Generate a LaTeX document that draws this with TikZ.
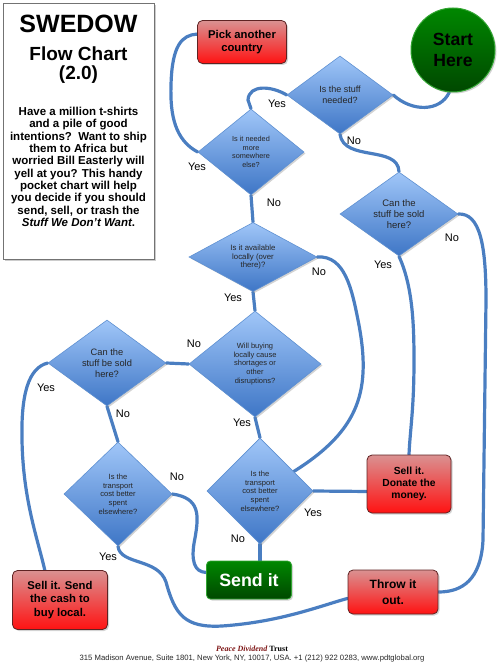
\documentclass[tikz,border=0pt]{standalone}
\usepackage{fontspec}
\setmainfont{Liberation Sans}
\newfontfamily\pdtserif{Liberation Serif}
\usetikzlibrary{shapes.geometric,shadows,backgrounds}

\definecolor{flowline}{RGB}{74,126,193}
\definecolor{diatop}{RGB}{160,198,248}
\definecolor{diabot}{RGB}{62,118,198}
\definecolor{diaedge}{RGB}{95,145,210}
\definecolor{redtop}{RGB}{218,145,145}
\definecolor{redbot}{RGB}{255,18,18}
\definecolor{rededge}{RGB}{95,35,35}
\definecolor{greentop}{RGB}{0,135,0}
\definecolor{greenbot}{RGB}{0,72,0}
\definecolor{greenedge}{RGB}{50,165,50}
\definecolor{pdtred}{RGB}{125,20,20}

\newcommand{\fsz}[2]{\fontsize{#1}{#2}\selectfont}

\tikzset{
  question/.style={diamond, draw=diaedge, line width=0.6pt,
    top color=diatop, bottom color=diabot, inner sep=0pt, align=center,
    text=black!85,
    drop shadow={opacity=0.35, shadow xshift=1.5pt, shadow yshift=-1.5pt}},
  outcome/.style={rectangle, rounded corners=5pt, draw=rededge, line width=0.8pt,
    top color=redtop, bottom color=redbot, inner sep=0pt, align=center,
    drop shadow={opacity=0.35, shadow xshift=1.5pt, shadow yshift=-1.5pt}},
  gobox/.style={rectangle, rounded corners=4pt, draw=greenedge, line width=0.8pt,
    top color=greentop, bottom color=greenbot, inner sep=0pt, align=center,
    text=white,
    drop shadow={opacity=0.35, shadow xshift=1.5pt, shadow yshift=-1.5pt}},
  answer/.style={font=\fsz{11}{11}, inner sep=0pt},
  flow/.style={draw=flowline, line width=3.2pt, line cap=round},
}

\begin{document}
\begin{tikzpicture}[x=1pt, y=-1pt]
  \useasboundingbox (0,0) rectangle (500,663);

  % --- caixa de texto da esquerda ---
  \node[draw=black!55, fill=white, line width=0.8pt, minimum width=151, minimum height=256,
        drop shadow={opacity=0.4, shadow xshift=2pt, shadow yshift=-2pt}] (info) at (78.5,131) {};
  \node[font=\fsz{25}{30}\bfseries, inner sep=0pt] (title) at (78.5,23.5) {SWEDOW};
  \node[font=\fsz{19}{22}\bfseries, inner sep=0pt] (subtitle) at (78.5,53.5) {Flow Chart};
  \node[font=\fsz{19}{22}\bfseries, inner sep=0pt] (version) at (78.5,75) {(2.0)};
  \node[font=\fsz{11.5}{12.35}\bfseries, align=center, inner sep=0pt] (blurb) at (78.5,167)
    {Have a million t-shirts\\and a pile of good\\intentions?\ \ Want to ship\\them to Africa but\\
     worried Bill Easterly will\\yell at you? This handy\\pocket chart will help\\
     you decide if you should\\send, sell, or trash the\\\textit{Stuff We Don’t Want}.};

  % --- inicio ---
  \node[circle, draw=greenedge, line width=1pt, top color=greentop, bottom color=greenbot,
        minimum size=84, inner sep=0pt, align=center, text=black, font=\fsz{17.6}{20.7}\bfseries,
        drop shadow={opacity=0.35, shadow xshift=1.5pt, shadow yshift=-1.5pt}] (start) at (453,50)
    {Start\\Here};

  % --- perguntas ---
  \node[question, minimum width=106, minimum height=78, font=\fsz{9}{11.5}] (need) at (340,95)
    {Is the stuff\\needed?};
  \node[question, minimum width=106, minimum height=86, font=\fsz{7.3}{8.6}] (more) at (251,152)
    {Is it needed\\more\\somewhere\\else?};
  \node[question, minimum width=118, minimum height=84, font=\fsz{9.5}{11}] (sold) at (399,214)
    {Can the\\stuff be sold\\here?};
  \node[question, minimum width=128, minimum height=68, font=\fsz{7.8}{8.4}] (avail) at (253,257)
    {Is it available\\locally (over\\there)?};
  \node[question, minimum width=132, minimum height=106, font=\fsz{7.5}{8.6}] (will) at (255,364)
    {Will buying\\locally cause\\shortages or\\other\\disruptions?};
  \node[question, minimum width=118, minimum height=86, font=\fsz{9.3}{11}] (lsold) at (107,363)
    {Can the\\stuff be sold\\here?};
  \node[question, minimum width=108, minimum height=104, font=\fsz{7.6}{8.7}] (ltrans) at (118,494)
    {Is the\\transport\\cost better\\spent\\elsewhere?};
  \node[question, minimum width=106, minimum height=106, font=\fsz{7.6}{8.7}] (rtrans) at (260,491)
    {Is the\\transport\\cost better\\spent\\elsewhere?};

  % --- resultados ---
  \node[outcome, minimum width=89, minimum height=43, font=\fsz{11.3}{13.3}\bfseries] (pick) at (242,42)
    {Pick another\\country};
  \node[outcome, minimum width=84, minimum height=58, font=\fsz{10.3}{12.2}\bfseries] (donate) at (409,484)
    {Sell it.\\Donate the\\money.};
  \node[outcome, minimum width=90, minimum height=44, font=\fsz{12}{15.5}\bfseries] (throw) at (393,592)
    {Throw it\\out.};
  \node[outcome, minimum width=95, minimum height=59, font=\fsz{11.3}{13.3}\bfseries] (sellb) at (60,600)
    {Sell it. Send\\the cash to\\buy local.};
  \node[gobox, minimum width=85, minimum height=38, font=\fsz{17.8}{20}\bfseries] (send) at (249,580)
    {Send it};

  % --- conectores ---
  \begin{pgfonlayer}{background}
    \draw[flow] (start.-95) .. controls (440,112) and (412,112) .. (need.east);
    \draw[flow] (need.west) .. controls (272,86) and (249,84) .. (248,100) -- (more.north);
    \draw[flow] (need.south) .. controls (344,162) and (398,145) .. (sold.north);
    \draw[flow] (more.west) .. controls (175,140) and (170,115) .. (171,85)
                .. controls (172,45) and (182,35) .. (pick.170);
    \draw[flow] (more.south) -- (avail.north);
    \draw[flow] (avail.east) .. controls (345,255) and (352,290) .. (358,320)
                .. controls (372,390) and (360,430) .. (rtrans.30);
    \draw[flow] (avail.south) -- (will.north);
    \draw[flow] (lsold.east) -- (will.west);
    \draw[flow] (will.south) -- (rtrans.north);
    \draw[flow] (lsold.west) .. controls (28,368) and (21,395) .. (22,440)
                .. controls (23,500) and (38,540) .. (sellb.117);
    \draw[flow] (lsold.south) -- (ltrans.north);
    \draw[flow] (ltrans.east) .. controls (200,498) and (199,515) .. (195,538)
                .. controls (190,562) and (195,572) .. (send.170);
    \draw[flow] (ltrans.south) .. controls (120,565) and (158,558) .. (166,582)
                .. controls (175,615) and (185,628) .. (222,626)
                .. controls (280,622) and (320,606) .. (throw.188);
    \draw[flow] (rtrans.south) -- (rtrans.south |- send.north);
    \draw[flow] (rtrans.east) -- (donate.190);
    \draw[flow] (sold.south) .. controls (412,285) and (414,320) .. (414,360)
                .. controls (414,410) and (410,430) .. (donate.north);
    \draw[flow] (sold.east) .. controls (480,213) and (486,245) .. (486,300) -- (483,540)
                .. controls (481,580) and (462,592) .. (throw.east);
  \end{pgfonlayer}

  % --- respostas ---
  \node[answer] (need-yes) at (277,104) {Yes};
  \node[answer] (need-no) at (354,141) {No};
  \node[answer] (more-yes) at (197,167) {Yes};
  \node[answer] (more-no) at (274,203) {No};
  \node[answer] (sold-no) at (452,238) {No};
  \node[answer] (sold-yes) at (383,265) {Yes};
  \node[answer] (avail-no) at (319,272) {No};
  \node[answer] (avail-yes) at (233,298) {Yes};
  \node[answer] (will-no) at (194,344) {No};
  \node[answer] (will-yes) at (242,423) {Yes};
  \node[answer] (lsold-yes) at (46,388) {Yes};
  \node[answer] (lsold-no) at (123,414) {No};
  \node[answer] (ltrans-no) at (177,477) {No};
  \node[answer] (ltrans-yes) at (108,557) {Yes};
  \node[answer] (rtrans-no) at (238,539) {No};
  \node[answer] (rtrans-yes) at (313,513) {Yes};

  % --- rodape ---
  \node[font=\fsz{8}{9}\pdtserif\bfseries, inner sep=0pt] (pdt) at (252,649)
    {\textcolor{pdtred}{\itshape Peace Dividend} Trust};
  \node[font=\fsz{7.7}{8.5}, text=black!85, inner sep=0pt] (address) at (252,659)
    {315 Madison Avenue, Suite 1801, New York, NY, 10017, USA. +1 (212) 922 0283, www.pdtglobal.org};
\end{tikzpicture}
\end{document}
